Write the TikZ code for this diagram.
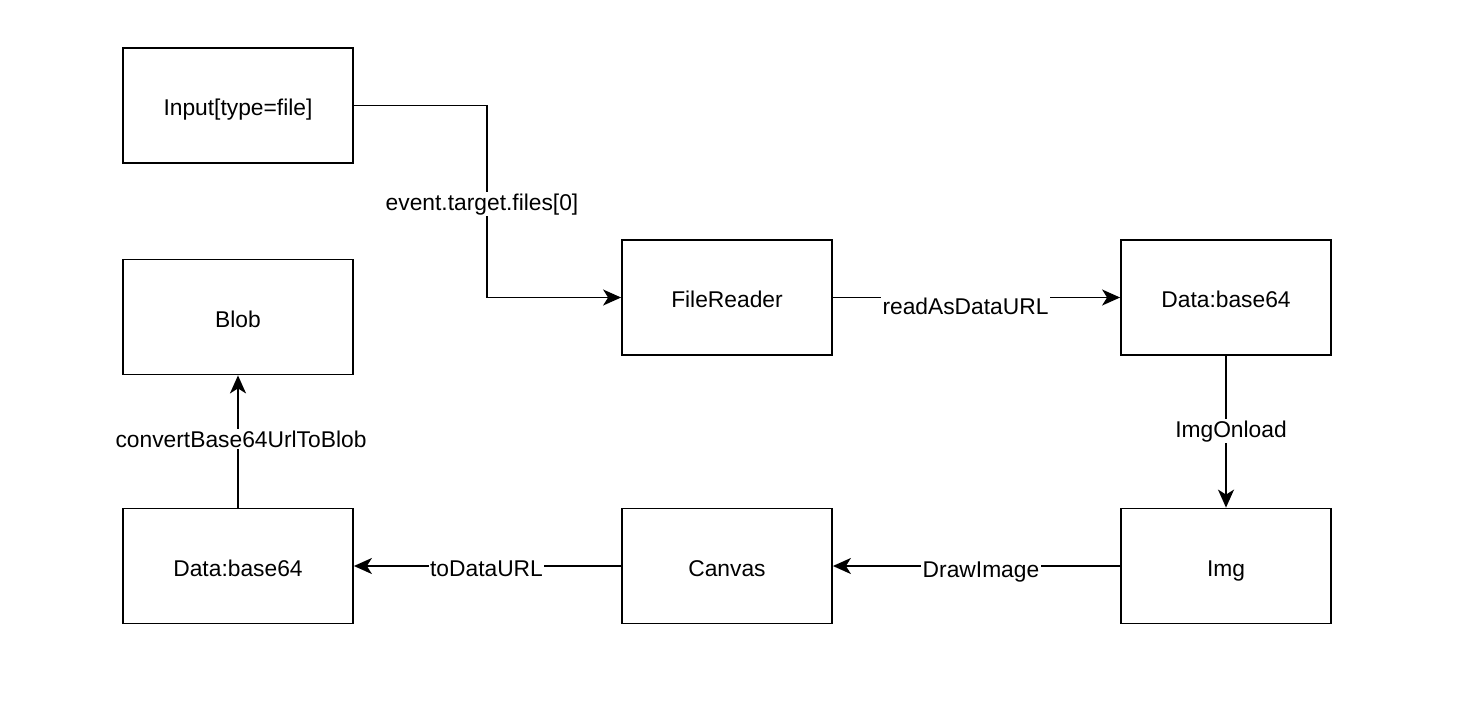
\documentclass[tikz,border=0pt]{standalone}
\usepackage{fontspec}
\setmainfont{Liberation Sans}
\usetikzlibrary{arrows.meta}
\begin{document}
\begin{tikzpicture}[x=1pt,y=-1pt,
  box/.style={draw, line width=1.8pt, minimum height=115pt, inner sep=0pt, text height=20pt, text depth=0pt, font=\fontsize{22.8}{27}\selectfont},
  wbox/.style={box, minimum width=230pt},
  nbox/.style={box, minimum width=210pt},
  lbl/.style={fill=white, inner sep=1.5pt, anchor=base, font=\fontsize{22.8}{27}\selectfont},
  arr/.style={line width=1.8pt, -{Stealth[length=18pt,width=16pt,inset=5pt]}}]
\useasboundingbox (0,0) rectangle (1464,702);
\fill[white] (0,0) rectangle (1464,702);
\node[wbox] (in) at (238,105.5) {Input[type=file]};
\node[wbox] (blob) at (238,317) {Blob};
\node[nbox] (fr) at (727,297.5) {FileReader};
\node[nbox] (d1) at (1226,297.5) {Data:base64};
\node[nbox] (img) at (1226,566) {Img};
\node[nbox] (cv) at (727,566) {Canvas};
\node[wbox] (d2) at (238,566) {Data:base64};
\coordinate (bend) at (487,105.5);
\draw[arr] (in.east) -- (bend) |- (fr.west);
\draw[arr] (fr.east) -- (d1.west);
\draw[arr] (d1.south) -- (img.north);
\draw[arr] (img.west) -- (cv.east);
\draw[arr] (cv.west) -- (d2.east);
\draw[arr] (d2.north) -- (blob.south);
\node[lbl] (l1) at (482,210) {event.target.files[0]};
\node[lbl] (l2) at (965.5,314) {readAsDataURL};
\node[lbl] (l3) at (1231,437) {ImgOnload};
\node[lbl] (l4) at (981,577) {DrawImage};
\node[lbl] (l5) at (486.5,576) {toDataURL};
\node[lbl] (l6) at (241,447) {convertBase64UrlToBlob};
\end{tikzpicture}
\end{document}
